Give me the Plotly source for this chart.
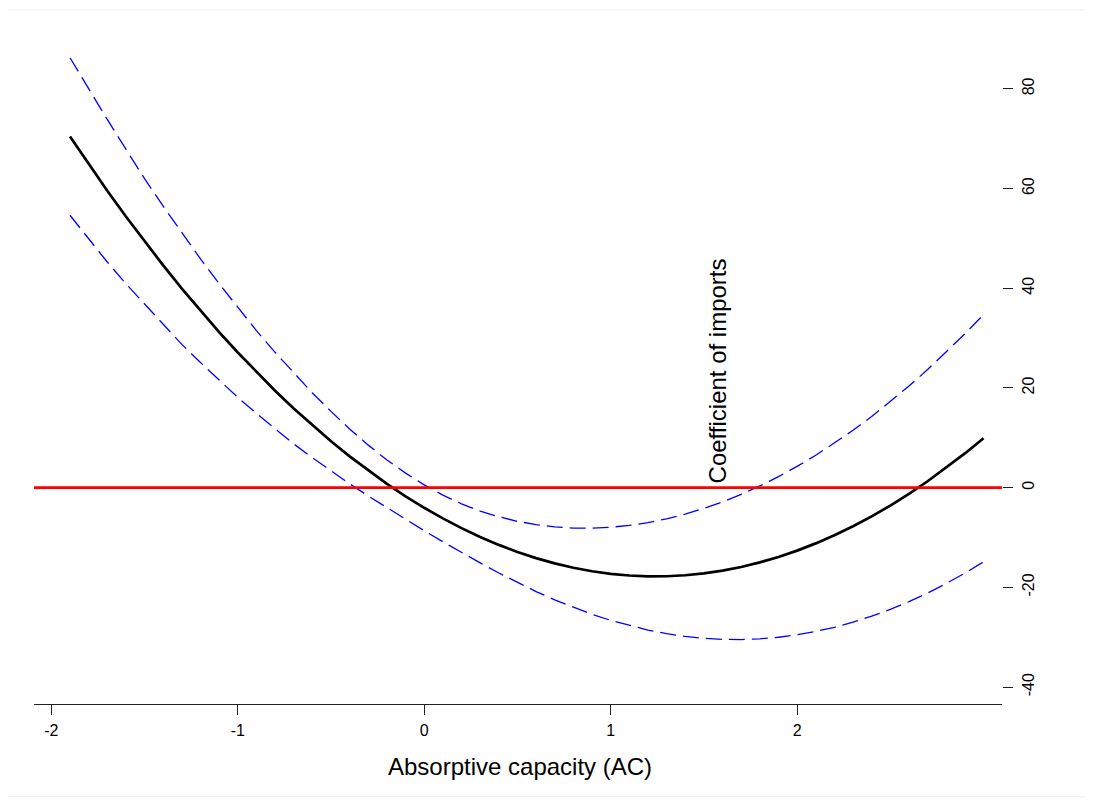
import plotly.graph_objects as go

# Absorptive capacity grid (x) and read-off values
ac = [-1.9, -1.8, -1.7, -1.6, -1.5, -1.4, -1.3, -1.2, -1.1, -1.0,
      -0.9, -0.8, -0.7, -0.6, -0.5, -0.4, -0.3, -0.2, -0.1, 0.0,
      0.1, 0.2, 0.3, 0.4, 0.5, 0.6, 0.7, 0.8, 0.9, 1.0,
      1.1, 1.2, 1.3, 1.4, 1.5, 1.6, 1.7, 1.8, 1.9, 2.0,
      2.1, 2.2, 2.3, 2.4, 2.5, 2.6, 2.7, 2.8, 2.9, 3.0]

coef = [70.44, 64.91, 59.56, 54.39, 49.39, 44.58, 39.94, 35.49, 31.21, 27.11,
        23.19, 19.45, 15.88, 12.50, 9.30, 6.27, 3.43, 0.76, -1.73, -4.04,
        -6.17, -8.12, -9.89, -11.48, -12.90, -14.13, -15.19, -16.07, -16.77, -17.28,
        -17.62, -17.79, -17.77, -17.57, -17.19, -16.64, -15.91, -14.99, -13.90, -12.63,
        -11.18, -9.55, -7.74, -5.76, -3.59, -1.25, 1.28, 3.98, 6.86, 9.92]

upper = [86.24, 79.91, 73.86, 67.89, 61.99, 56.48, 51.14, 45.89, 40.91, 36.11,
         31.49, 27.15, 22.98, 19.00, 15.30, 11.77, 8.53, 5.56, 2.92, 0.56,
         -1.49, -3.24, -4.69, -5.84, -6.76, -7.42, -7.88, -8.11, -8.13, -7.94,
         -7.57, -7.01, -6.25, -5.30, -4.16, -2.85, -1.35, 0.34, 2.21, 4.26,
         6.49, 8.91, 11.50, 14.27, 17.24, 20.37, 23.69, 27.19, 30.87, 34.72]

lower = [54.64, 49.91, 45.26, 40.89, 36.79, 32.68, 28.74, 25.09, 21.51, 18.11,
         14.89, 11.75, 8.78, 6.00, 3.30, 0.77, -1.67, -4.04, -6.38, -8.64,
         -10.85, -13.00, -15.09, -17.12, -19.04, -20.84, -22.50, -24.03, -25.41, -26.62,
         -27.67, -28.57, -29.29, -29.84, -30.22, -30.43, -30.47, -30.32, -30.01, -29.52,
         -28.85, -28.01, -26.98, -25.79, -24.42, -22.87, -21.13, -19.23, -17.15, -14.88]

x_ticks = [-2, -1, 0, 1, 2]
x_ticklabels = ["-2", "-1", "0", "1", "2"]
y_ticks = [-40, -20, 0, 20, 40, 60, 80]
y_ticklabels = ["-40", "-20", "0", "20", "40", "60", "80"]

FONT = "Liberation Sans, Arial, Helvetica, sans-serif"

fig = go.Figure()
fig.add_trace(go.Scatter(x=ac, y=upper, mode="lines",
                         line=dict(color="#0000ff", width=1.3, dash="16px,7px"),
                         showlegend=False, hoverinfo="skip"))
fig.add_trace(go.Scatter(x=ac, y=lower, mode="lines",
                         line=dict(color="#0000ff", width=1.3, dash="16px,7px"),
                         showlegend=False, hoverinfo="skip"))
fig.add_trace(go.Scatter(x=ac, y=coef, mode="lines",
                         line=dict(color="black", width=2.7),
                         showlegend=False))

# zero reference line
fig.add_shape(type="line", xref="paper", yref="y", x0=0, x1=1, y0=0, y1=0,
              line=dict(color="#ff0000", width=2.6), layer="above")

# faint outer frame
fig.add_shape(type="rect", xref="paper", yref="paper",
              x0=-0.0303, x1=1.0892, y0=-0.1395, y1=1.0454,
              line=dict(color="#eeeeee", width=1), layer="below")

fig.add_annotation(text="Coefficient of imports", xref="paper", yref="paper",
                   x=0.7057, y=0.501, textangle=-90, showarrow=False,
                   xanchor="center", yanchor="middle",
                   font=dict(family=FONT, size=24, color="black"))
fig.add_annotation(text="Absorptive capacity (AC)", xref="paper", yref="paper",
                   x=0.502, y=-0.0944, showarrow=False,
                   xanchor="center", yanchor="middle",
                   font=dict(family=FONT, size=24, color="black"))

fig.update_layout(
    width=1093, height=807,
    margin=dict(l=26, r=99, t=32, b=111),
    paper_bgcolor="white", plot_bgcolor="white",
    font=dict(family=FONT, color="black"),
    xaxis=dict(range=[-2.093, 3.099], tickvals=x_ticks, ticktext=x_ticklabels,
               ticks="outside",
               ticklen=10, tickwidth=1, tickcolor="#222222",
               showline=True, linecolor="#222222", linewidth=1,
               showgrid=False, zeroline=False, ticklabelstandoff=2,
               tickfont=dict(family=FONT, size=16, color="black")),
    yaxis=dict(range=[-43.4, 89.8], tickvals=y_ticks, ticktext=y_ticklabels,
               side="right",
               ticks="outside", ticklen=10, tickwidth=1, tickcolor="#222222",
               showline=False, showgrid=False, zeroline=False,
               tickangle=-90, ticklabelstandoff=2,
               tickfont=dict(family=FONT, size=16, color="black")),
)

fig.write_html("out.html")
